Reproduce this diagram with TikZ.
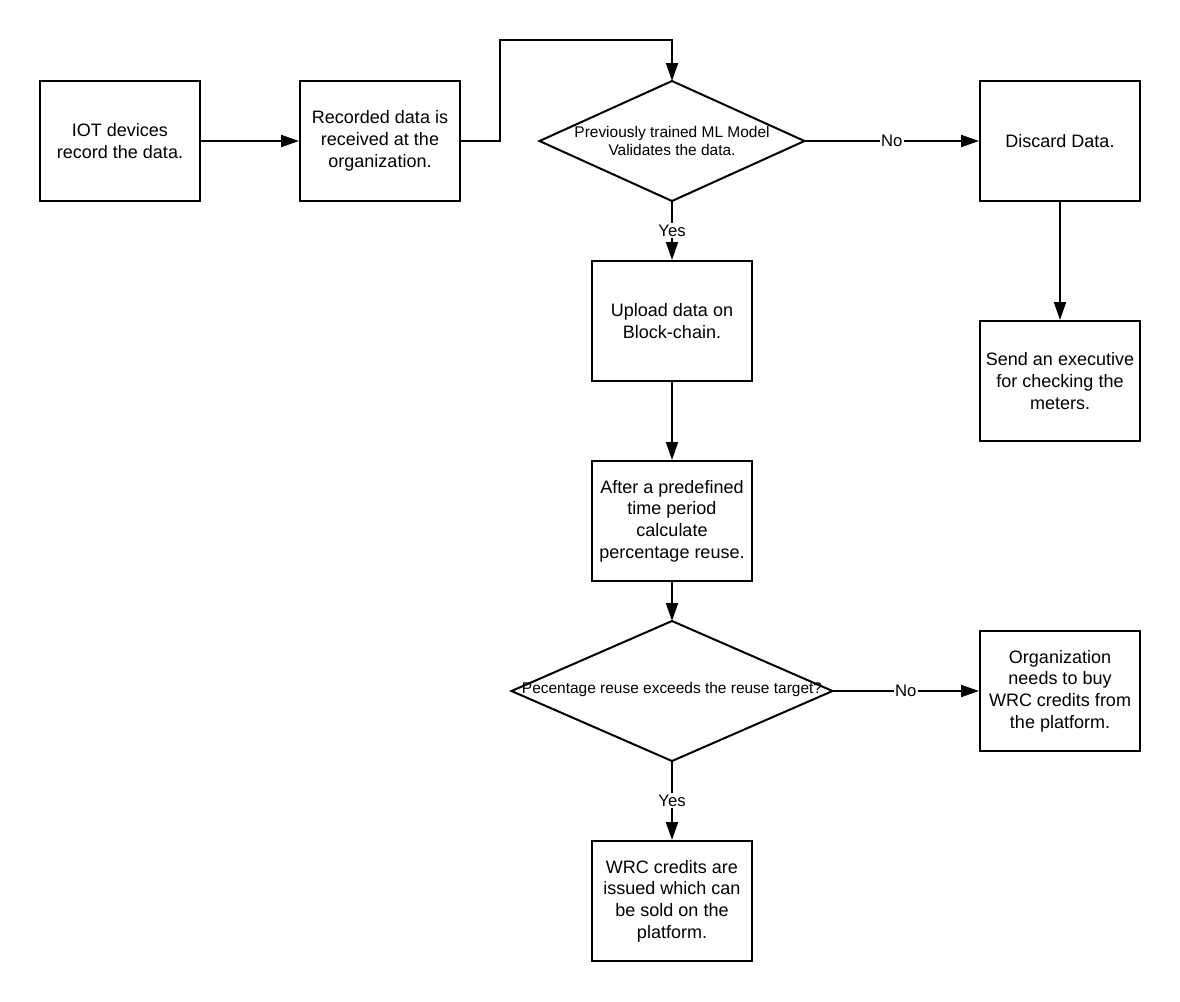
\documentclass[tikz,border=0pt]{standalone}
\usepackage{fontspec}
\setmainfont{Liberation Sans}
\usetikzlibrary{arrows.meta,shapes.geometric}
\begin{document}
\begin{tikzpicture}[x=0.75pt,y=-0.75pt,
  box/.style={draw,line width=1.5pt,minimum width=120pt,minimum height=90pt,inner sep=0pt,align=center,font=\fontsize{13.5}{16.3}\selectfont},
  dia/.style={draw,diamond,line width=1.5pt,inner sep=0pt,outer sep=0pt},
  diatext/.style={align=center,inner sep=0pt,font=\fontsize{11.6}{13.7}\selectfont},
  conn/.style={line width=1.5pt,-{Triangle[length=13.5pt,width=9pt]}},
  lbl/.style={fill=white,inner sep=1pt,font=\fontsize{12.5}{15}\selectfont}]
\useasboundingbox (0,0) rectangle (1180,1001);
\node[box] (b1) at (120,141) {IOT devices\\record the data.};
\node[box] (b2) at (380,141) {Recorded data is\\received at the\\organization.};
\node[dia,minimum width=198.75pt,minimum height=90pt] (d1) at (672,141) {};
\node[diatext] (d1t) at (672,141) {Previously trained ML Model\\Validates the data.};
\node[box] (disc) at (1060,141) {Discard Data.};
\node[box] (send) at (1060,381) {Send an executive\\for checking the\\meters.};
\node[box] (up) at (672,321) {Upload data on\\Block-chain.};
\node[box] (after) at (672,521) {After a predefined\\time period\\calculate\\percentage reuse.};
\node[dia,minimum width=240.75pt,minimum height=105pt] (d2) at (672,691) {};
\node[diatext] (d2t) at (672,689) {Pecentage reuse exceeds the reuse target?};
\node[box] (org) at (1060,691) {Organization\\needs to buy\\WRC credits from\\the platform.};
\node[box] (wrc) at (672,901) {WRC credits are\\issued which can\\be sold on the\\platform.};
\coordinate (k1) at (500,40);
\draw[conn] (b1.east) -- (b2.west);
\draw[conn] (b2.east) -| (k1) -| (d1.north);
\draw[conn] (d1.east) -- node[lbl] (n1) {No} (disc.west);
\draw[conn] (disc.south) -- (send.north);
\draw[conn] (d1.south) -- node[lbl] (y1) {Yes} (up.north);
\draw[conn] (up.south) -- (after.north);
\draw[conn] (after.south) -- (d2.north);
\draw[conn] (d2.east) -- node[lbl] (n2) {No} (org.west);
\draw[conn] (d2.south) -- node[lbl] (y2) {Yes} (wrc.north);
\end{tikzpicture}
\end{document}
